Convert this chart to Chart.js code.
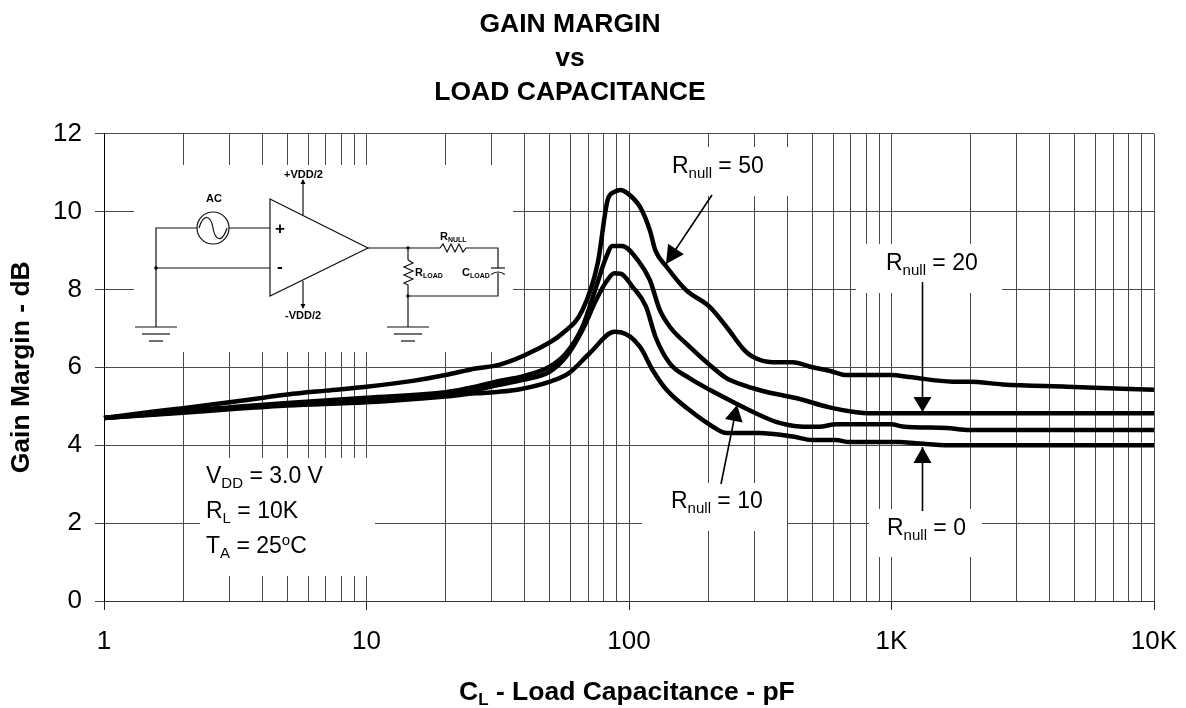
<!DOCTYPE html>
<html><head><meta charset="utf-8">
<style>html,body{margin:0;padding:0;background:#fff}#w{width:1186px;height:708px;position:relative}</style>
<script src="https://cdn.jsdelivr.net/npm/chart.js@4"></script></head>
<body><div id="w"><canvas id="c" width="1186" height="708"></canvas></div>
<script>
const titleLines=["GAIN MARGIN","vs","LOAD CAPACITANCE"];
const yTicks=[0,2,4,6,8,10,12];
const xGrid=[1,2,3,4,5,6,7,8,9,10,20,30,40,50,60,70,80,90,100,200,300,400,500,600,700,800,900,1000,2000,3000,4000,5000,6000,7000,8000,9000,10000];
const xMajorLabels={1:"1",10:"10",100:"100",1000:"1K",10000:"10K"};

const r50x=[1,1.5,2,3,5,7,10,15,20,26,32,44,56,66.5,76,83,88,93,98.5,110,120,126,139,165,203,235,275,296,352,420,500,580,673,1000,1170,1710,1980,2650,4650,10000];
const r50y=[4.7,4.85,4.95,5.1,5.3,5.4,5.5,5.65,5.8,5.97,6.06,6.44,6.88,7.47,8.67,10.3,10.5,10.55,10.47,10.12,9.52,9.0,8.58,7.98,7.55,7.04,6.44,6.27,6.13,6.13,6.0,5.91,5.8,5.8,5.75,5.63,5.63,5.56,5.5,5.42];
const r20x=[1,2,3,5,10,20,26,32,39,50,57.6,66.5,75,82,86.5,94,108,120,131,143,170,203,235,278,332,432,580,711,840,10000];
const r20y=[4.7,4.88,4.97,5.08,5.22,5.36,5.5,5.65,5.76,6.02,6.36,7.04,8.07,8.84,9.11,9.11,8.75,8.24,7.47,7.04,6.53,6.06,5.72,5.52,5.37,5.21,4.97,4.86,4.82,4.82];
const r10x=[1,2,3,5,10,20,26,32,39,50,57.6,66.5,75,82,88,93,103,116,126,143,170,203,247,304,363,447,530,615,1000,1100,1620,1980,10000];
const r10y=[4.7,4.85,4.95,5.05,5.17,5.3,5.42,5.55,5.67,5.89,6.27,6.96,7.73,8.2,8.41,8.4,8.07,7.56,6.79,6.1,5.72,5.42,5.12,4.82,4.6,4.48,4.47,4.54,4.54,4.48,4.44,4.39,4.39];
const r0x=[1,2,3,5,10,20,26,32,38,50,59,70.8,88,93,110,123,139,170,208,235,313,420,500,615,690,1070,1240,1660,10000];
const r0y=[4.7,4.83,4.92,5.02,5.1,5.25,5.33,5.37,5.43,5.63,5.85,6.36,6.91,6.9,6.53,5.93,5.42,4.9,4.48,4.31,4.31,4.22,4.13,4.13,4.08,4.08,4.05,4.0,4.0];

const FONT='"Liberation Sans", Arial, sans-serif';
const pts=(xs,ys)=>xs.map((x,i)=>({x,y:ys[i]}));
const line=(label,xs,ys)=>({label,data:pts(xs,ys),borderColor:'#000',borderWidth:4.5,pointRadius:0,cubicInterpolationMode:'monotone',borderJoinStyle:'round',borderCapStyle:'butt',fill:false,clip:false});

function rich(ctx,x,y,parts,size,bold){
  let cx=x;
  ctx.textBaseline='alphabetic';ctx.textAlign='left';ctx.fillStyle='#000';
  for(const p of parts){
    const s=p.sub||p.sup?Math.round(size*0.66):size;
    ctx.font=(bold?'bold ':'')+s+'px '+FONT;
    const t=p.sub||p.sup||p.t;
    ctx.fillText(t,cx,y+(p.sub?size*0.2:p.sup?-size*0.36:0));
    cx+=ctx.measureText(t).width;
  }
}
function arrowHead(ctx,x,y,ang,len,w){
  ctx.save();ctx.translate(x,y);ctx.rotate(ang);
  ctx.beginPath();ctx.moveTo(0,0);ctx.lineTo(-len,-w/2);ctx.lineTo(-len,w/2);ctx.closePath();ctx.fillStyle='#000';ctx.fill();ctx.restore();
}
function arrow(ctx,x1,y1,x2,y2,len,w){
  ctx.strokeStyle='#000';ctx.lineWidth=1.6;ctx.beginPath();ctx.moveTo(x1,y1);ctx.lineTo(x2,y2);ctx.stroke();
  arrowHead(ctx,x2,y2,Math.atan2(y2-y1,x2-x1),len,w);
}
const masks=[[134,165,379,187],[200,458,175,118],[650,147,150,49],[856,244,146,49],[869,509,113,48],[642,483,145,48]];
const overlay={id:'overlay',
 afterLayout(ch){ if(ch.titleBlock) ch.titleBlock.left-=14; },
 beforeDatasetsDraw(ch){
  const c=ch.ctx;c.save();c.fillStyle='#fff';
  for(const m of masks)c.fillRect(m[0],m[1],m[2],m[3]);
  c.restore();
 },
 afterDraw(ch){
  const c=ch.ctx;c.save();
  const S=23;
  rich(c,672,173,[{t:'R'},{sub:'null'},{t:' = 50'}],S);
  rich(c,886,270,[{t:'R'},{sub:'null'},{t:' = 20'}],S);
  rich(c,887,535,[{t:'R'},{sub:'null'},{t:' = 0'}],S);
  rich(c,671,508,[{t:'R'},{sub:'null'},{t:' = 10'}],S);
  rich(c,206,483,[{t:'V'},{sub:'DD'},{t:' = 3.0 V'}],S);
  rich(c,206,518,[{t:'R'},{sub:'L'},{t:' = 10K'}],S);
  rich(c,206,553,[{t:'T'},{sub:'A'},{t:' = 25'},{sup:'o'},{t:'C'}],S);
  arrow(c,712,195,666,264,18,19);
  arrow(c,922.5,282,922.5,412,15,18);
  arrow(c,922.5,511,922.5,447,16,18);
  arrow(c,721,484,737,405,16,18);
  rich(c,459,700,[{t:'C'},{sub:'L'},{t:' - Load Capacitance - pF'}],26.5,true);
  schematic(c);
  c.restore();
 }};
function schematic(c){
  c.strokeStyle='#111';c.lineWidth=1.2;c.fillStyle='#000';
  const L=(...p)=>{c.beginPath();c.moveTo(p[0],p[1]);for(let i=2;i<p.length;i+=2)c.lineTo(p[i],p[i+1]);c.stroke();};
  const dot=(x,y)=>{c.beginPath();c.arc(x,y,1.8,0,7);c.fill();};
  const gnd=(x,y)=>{L(x-21,y,x+21,y);L(x-14,y+7,x+14,y+7);L(x-7,y+14,x+7,y+14);};
  L(197,228,156,228,156,327);L(156,268,270,268);dot(156,268);gnd(156,327);
  c.beginPath();c.arc(213,228,16,0,7);c.stroke();
  c.beginPath();c.moveTo(199,228);c.bezierCurveTo(204,212,211,216,213,228);c.bezierCurveTo(215,240,222,244,227,228);c.stroke();
  L(229,228,270,228);
  c.beginPath();c.moveTo(270,199);c.lineTo(368,248);c.lineTo(270,296);c.closePath();c.stroke();
  L(303,215,303,183);arrowHead(c,303,179,-Math.PI/2,5,5);
  L(303,281,303,305);arrowHead(c,303,309,Math.PI/2,5,5);
  L(368,248,440,248);dot(408,248);
  L(440,248,443,244,447,252,451,244,455,252,459,244,463,252,466,248,498,248,498,268);
  L(408,248,408,260);
  L(408,260,413,263,404,267,413,271,404,275,413,279,404,283,408,285,408,327);
  dot(408,296);L(408,296,498,296,498,273);
  L(491,268,505,268);c.beginPath();c.arc(498,282,10,-2.3,-0.84);c.stroke();
  gnd(408,327);
  rich(c,275,234,[{t:'+'}],17,true);
  rich(c,277,272,[{t:'-'}],17,true);
  c.font='bold 11px '+FONT;c.fillStyle='#000';c.textAlign='left';
  c.fillText('AC',206,202);
  c.fillText('+VDD/2',284,178);
  c.fillText('-VDD/2',285,319);
  rich(c,440,240,[{t:'R'},{sub:'NULL'}],11,true);
  rich(c,415,276,[{t:'R'},{sub:'LOAD'}],11,true);
  rich(c,462,276,[{t:'C'},{sub:'LOAD'}],11,true);
}
new Chart(document.getElementById('c'),{
 type:'line',
 data:{datasets:[line('Rnull = 50',r50x,r50y),line('Rnull = 20',r20x,r20y),line('Rnull = 10',r10x,r10y),line('Rnull = 0',r0x,r0y)]},
 plugins:[overlay],
 options:{responsive:false,animation:false,
  layout:{padding:{left:0,right:32,top:0,bottom:0}},
  plugins:{legend:{display:false},tooltip:{enabled:false},
   title:{display:true,text:titleLines,color:'#000',font:{family:FONT,size:26.5,weight:'bold',lineHeight:1.283},padding:{top:7.5,bottom:24}}},
  scales:{
   x:{type:'logarithmic',min:1,max:10000,
    afterBuildTicks(s){s.ticks=xGrid.map(v=>({value:v,major:v in xMajorLabels}));},
    afterFit(s){s.height=107;s.paddingRight=0;s.paddingLeft=0;},
    grid:{color:'#4a4a4a',lineWidth:1,tickLength:9,tickColor:ctx=>(ctx.tick&&ctx.tick.value in xMajorLabels)?'#222':'rgba(0,0,0,0)'},
    border:{color:'#333',width:1},
    ticks:{autoSkip:false,maxRotation:0,minRotation:0,color:'#000',font:{family:FONT,size:26},padding:16,callback:(v)=>xMajorLabels[v]||''}},
   y:{type:'linear',min:0,max:12,
    afterBuildTicks(s){s.ticks=yTicks.map(v=>({value:v}));},
    afterFit(s){s.width=104;},
    grid:{color:'#4a4a4a',lineWidth:1,tickLength:9,tickColor:'#444'},
    border:{color:'#000',width:1},
    ticks:{color:'#000',font:{family:FONT,size:26},padding:13},
    title:{display:true,text:'Gain Margin - dB',color:'#000',font:{family:FONT,size:26.5,weight:'bold'},padding:{top:6,bottom:0}}}
  }}
});
</script></body></html>
